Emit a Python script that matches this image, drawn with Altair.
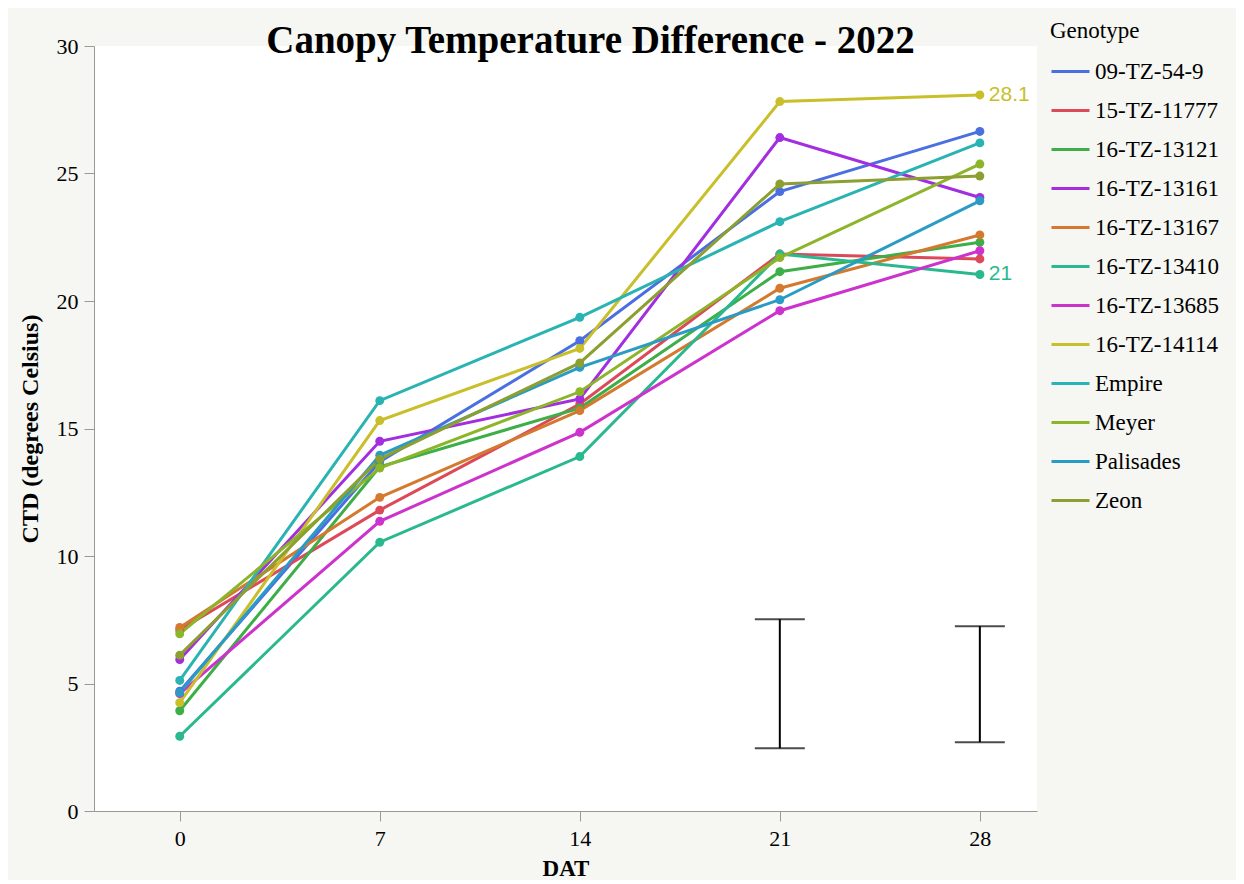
import altair as alt
import pandas as pd

days = [0, 7, 14, 21, 28]
genotypes = ["09-TZ-54-9", "15-TZ-11777", "16-TZ-13121", "16-TZ-13161", "16-TZ-13167",
             "16-TZ-13410", "16-TZ-13685", "16-TZ-14114", "Empire", "Meyer", "Palisades", "Zeon"]
colors = ["#4a6fe0", "#dc4a5a", "#3eae48", "#a22ee0", "#d4792e", "#2ab98e",
          "#cc33cc", "#c8bf2a", "#2ab3b3", "#8cb52a", "#2a9cc4", "#8c9f30"]

ctd_0914 = [4.70, 13.70, 18.44, 24.29, 26.65]
ctd_1577 = [7.10, 11.80, 15.96, 21.84, 21.65]
ctd_13121 = [3.93, 13.50, 15.80, 21.15, 22.30]
ctd_13161 = [5.94, 14.50, 16.16, 26.41, 24.06]
ctd_13167 = [7.20, 12.30, 15.70, 20.50, 22.59]
ctd_13410 = [2.93, 10.54, 13.90, 21.84, 21.04]
ctd_13685 = [4.60, 11.36, 14.85, 19.62, 21.97]
ctd_14114 = [4.25, 15.31, 18.14, 27.82, 28.08]
ctd_empire = [5.12, 16.09, 19.36, 23.11, 26.20]
ctd_meyer = [6.95, 13.45, 16.44, 21.70, 25.37]
ctd_palisades = [4.64, 13.95, 17.40, 20.05, 23.93]
ctd_zeon = [6.11, 13.80, 17.57, 24.59, 24.90]

series = [ctd_0914, ctd_1577, ctd_13121, ctd_13161, ctd_13167, ctd_13410,
          ctd_13685, ctd_14114, ctd_empire, ctd_meyer, ctd_palisades, ctd_zeon]

# error bars (LSD)
err_days = [21, 28]
err_low = [2.46, 2.70]
err_high = [7.52, 7.25]

# end labels
label_genos = ["16-TZ-14114", "16-TZ-13410"]
label_texts = ["28.1", "21"]

rows = []
for g, vals in zip(genotypes, series):
    for d, v in zip(days, vals):
        rows.append({"Genotype": g, "DAT": d, "CTD": v})
df = pd.DataFrame(rows)

err_df = pd.DataFrame({"DAT": err_days, "low": err_low, "high": err_high})

lab_rows = []
for g, t in zip(label_genos, label_texts):
    v = series[genotypes.index(g)][-1]
    lab_rows.append({"Genotype": g, "DAT": days[-1], "CTD": v, "label": t})
lab_df = pd.DataFrame(lab_rows)

SERIF = "Liberation Serif"

xscale = alt.Scale(domain=[-3, 30], nice=False, zero=False)
yscale = alt.Scale(domain=[0, 30], nice=False)
cscale = alt.Scale(domain=genotypes, range=colors)

x_enc = alt.X("DAT:Q", scale=xscale,
              axis=alt.Axis(title="DAT", values=days, grid=False, labelPadding=7,
                            titlePadding=8, titleFontSize=23))
y_enc = alt.Y("CTD:Q", scale=yscale,
              axis=alt.Axis(title="CTD (degrees Celsius)", values=[0, 5, 10, 15, 20, 25, 30],
                            grid=False, labelPadding=6, titlePadding=14, titleFontSize=24))

lines = alt.Chart(df).mark_line(strokeWidth=3).encode(
    x=x_enc, y=y_enc,
    color=alt.Color("Genotype:N", scale=cscale,
                    legend=alt.Legend(title="Genotype", symbolType="stroke", symbolSize=1444,
                                      symbolStrokeWidth=3, orient="none", legendX=956,
                                      legendY=-26, titlePadding=8)),
    detail="Genotype:N",
)
points = alt.Chart(df).mark_circle(size=80, opacity=1).encode(
    x="DAT:Q", y="CTD:Q",
    color=alt.Color("Genotype:N", scale=cscale, legend=None),
)
labels = alt.Chart(lab_df).mark_text(align="left", baseline="middle", dx=9, fontSize=21,
                                     font="Liberation Sans").encode(
    x="DAT:Q", y="CTD:Q", text="label:N",
    color=alt.Color("Genotype:N", scale=cscale, legend=None),
)
err_rule = alt.Chart(err_df).mark_rule(color="black", strokeWidth=2).encode(
    x="DAT:Q", y="low:Q", y2="high:Q"
)
err_low_tick = alt.Chart(err_df).mark_tick(color="black", orient="horizontal", size=50, thickness=2).encode(
    x="DAT:Q", y="low:Q"
)
err_high_tick = alt.Chart(err_df).mark_tick(color="black", orient="horizontal", size=50, thickness=2).encode(
    x="DAT:Q", y="high:Q"
)

chart = alt.layer(lines, points, labels, err_rule, err_low_tick, err_high_tick).properties(
    width=943, height=765,
    background="#f6f6f2",
    padding={"left": 10, "top": 12, "right": 17, "bottom": 0},
    title=alt.TitleParams("Canopy Temperature Difference - 2022", font=SERIF, fontSize=39,
                          fontWeight="bold", color="black", offset=-41, anchor="middle",
                          frame="group", dx=25),
).configure_view(fill="white", stroke=None).configure_axis(
    labelFont=SERIF, titleFont=SERIF, labelFontSize=22,
    labelColor="black", titleColor="black", titleFontWeight="bold",
    domainColor="#999999", tickColor="#999999", tickSize=10,
).configure_legend(
    titleFont=SERIF, labelFont=SERIF, titleFontSize=23, labelFontSize=23,
    titleFontWeight="normal", titleColor="black", labelColor="black", rowPadding=6,
)

chart.save("out.html", embed_options={"renderer": "svg", "actions": False})
